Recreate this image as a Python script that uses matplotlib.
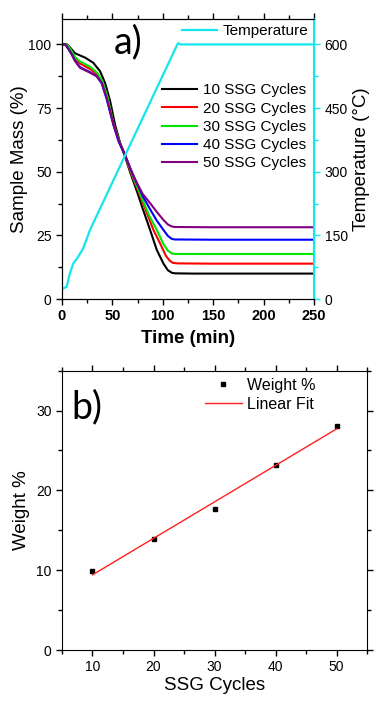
import matplotlib
matplotlib.use("Agg")
import matplotlib.pyplot as plt
import numpy as np
from matplotlib.ticker import MultipleLocator

plt.rcParams["font.family"] = ["Liberation Sans", "DejaVu Sans"]

# --- panel a: TGA curves (time in min, mass in %) ---
t_10 = [0, 5, 8, 13, 23, 31, 37.7, 42.7, 47.6, 52.6, 57.5, 62.5, 67, 71, 75, 80, 84, 87.3, 94, 100.5, 105, 109, 112, 130, 160, 200, 250]
m_10 = [100, 100, 98.8, 96.5, 94.8, 92.8, 89.5, 84.9, 78, 68.5, 61.5, 56, 50.5, 46, 41.5, 35.5, 31, 27.2, 19.3, 14, 11.3, 10.3, 10.1, 10, 10, 10, 10]

t_20 = [0, 4, 6, 9, 13, 18, 28, 35, 40, 45, 51, 57, 62.5, 70, 80, 90.6, 97.2, 103, 107, 110, 115, 150, 200, 250]
m_20 = [100, 100, 99.5, 97.5, 94.5, 92.5, 90.3, 88.2, 85.2, 79.3, 69, 61.5, 56.2, 48, 38, 27.2, 21.9, 17, 15, 14.2, 14, 13.9, 13.9, 13.9]

t_30 = [0, 4, 6, 9, 13, 18, 28, 35, 40, 45, 51, 57, 62.5, 70, 80.7, 87, 94, 100, 105, 109, 112, 150, 200, 250]
m_30 = [100, 100, 99.5, 97.8, 95, 93.3, 91.2, 88.8, 85.5, 79.5, 69, 61.6, 56.4, 48.5, 38.2, 32.3, 27.2, 22, 19, 17.9, 17.7, 17.7, 17.7, 17.7]

t_40 = [0, 3, 4.6, 9.6, 13, 17.9, 27.8, 34.4, 39.4, 44.3, 50.9, 56, 62.5, 70.7, 80, 87.3, 94, 100.5, 105, 109, 112, 150, 200, 250]
m_40 = [100, 100, 99.3, 96.2, 93.6, 91.1, 89.1, 87.5, 84.7, 78.5, 68.5, 62, 56.5, 48.5, 40.5, 35.3, 30.8, 27.2, 24.8, 23.6, 23.4, 23.3, 23.3, 23.3]

t_50 = [0, 3, 4.6, 9.6, 13, 17.9, 27.8, 34.4, 39.4, 44.3, 50.9, 56, 62.5, 68, 74, 80, 87.3, 94, 100.5, 105, 108.8, 112, 150, 200, 250]
m_50 = [100, 100, 99.3, 96, 93.4, 90.8, 88.9, 87.5, 84.9, 79, 68.8, 62.5, 56.7, 51, 45.8, 41.3, 37.7, 34.2, 31.1, 29.3, 28.5, 28.3, 28.2, 28.2, 28.2]

temp_t = [0, 1.3, 4.6, 7.9, 11.2, 16.2, 21.1, 27.8, 115, 117, 120, 250]
temp_c = [22, 25, 29, 61, 84, 100, 120, 163, 603, 600, 600, 600]

# --- panel b: residual weight vs cycles ---
cycles = [10, 20, 30, 40, 50]
weight = [9.9, 13.9, 17.7, 23.2, 28.1]

CYAN = "#14e6ee"

fig = plt.figure(figsize=(3.78, 7.02), dpi=100)

ax = fig.add_axes([0.164, 0.574, 0.667, 0.399])
series = [
    (t_10, m_10, "black", "10 SSG Cycles"),
    (t_20, m_20, "#ff0000", "20 SSG Cycles"),
    (t_30, m_30, "#00e600", "30 SSG Cycles"),
    (t_40, m_40, "#0000ff", "40 SSG Cycles"),
    (t_50, m_50, "#800080", "50 SSG Cycles"),
]
for tt, mm, col, lab in series:
    ax.plot(tt, mm, color=col, lw=1.5, label=lab)
ax.set_xlim(0, 250)
ax.set_ylim(0, 110)
ax.xaxis.set_major_locator(MultipleLocator(50))
ax.xaxis.set_minor_locator(MultipleLocator(25))
ax.yaxis.set_major_locator(MultipleLocator(25))
ax.yaxis.set_minor_locator(MultipleLocator(12.5))
ax.tick_params(which="both", direction="out", top=True, labelsize=10, width=1)
ax.tick_params(which="major", length=4)
ax.tick_params(which="minor", length=3)
ax.tick_params(axis="x", labelsize=10.5)
for lbl in ax.get_xticklabels():
    lbl.set_fontweight("bold")
ax.set_xlabel("Time (min)", fontsize=13.5, fontweight="bold", labelpad=5)
ax.set_ylabel("Sample Mass (%)", fontsize=13.5, labelpad=0)
ax.text(65.5, 101, "a)", fontsize=27, family="Lato", ha="center", va="center")
ax.legend(loc="upper left", bbox_to_anchor=(0.397, 0.77), frameon=False, fontsize=11,
          handlelength=2.3, handletextpad=0.35, labelspacing=0.28, borderpad=0, borderaxespad=0)

ax2 = ax.twinx()
ax2.plot(temp_t, temp_c, color=CYAN, lw=1.6, label="Temperature")
ax2.set_ylim(0, 660)
ax2.yaxis.set_major_locator(MultipleLocator(150))
ax2.yaxis.set_minor_locator(MultipleLocator(75))
ax2.tick_params(which="both", direction="out", colors=CYAN, labelcolor="black", labelsize=10, width=1)
ax2.tick_params(which="major", length=4)
ax2.tick_params(which="minor", length=3)
ax2.spines["right"].set_color(CYAN)
ax2.spines["right"].set_linewidth(1.5)
ax2.set_ylabel("Temperature (\u00b0C)", fontsize=13.5, labelpad=4)
ax2.legend(loc="upper left", bbox_to_anchor=(0.476, 0.982), frameon=False, fontsize=11,
           handlelength=2.3, handletextpad=0.33, borderpad=0, borderaxespad=0)

# panel b
bx = fig.add_axes([0.164, 0.074, 0.807, 0.398])
bx.plot(cycles, weight, "s", color="black", ms=3.5, label="Weight %")
slope, icpt = np.polyfit(cycles, weight, 1)
fit_x = np.array([cycles[0], cycles[-1]])
bx.plot(fit_x, slope * fit_x + icpt, color="#ff2020", lw=1, label="Linear Fit")
bx.set_xlim(5, 55)
bx.set_ylim(0, 35)
bx.xaxis.set_major_locator(MultipleLocator(10))
bx.xaxis.set_minor_locator(MultipleLocator(5))
bx.yaxis.set_major_locator(MultipleLocator(10))
bx.yaxis.set_minor_locator(MultipleLocator(5))
bx.tick_params(which="both", direction="out", top=True, right=True, labelsize=10, width=1)
bx.tick_params(which="major", length=4)
bx.tick_params(which="minor", length=3)
bx.set_xlabel("SSG Cycles", fontsize=13.5, labelpad=2)
bx.set_ylabel("Weight %", fontsize=13.5, labelpad=4)
bx.text(9.1, 30.4, "b)", fontsize=27, family="Lato", ha="center", va="center")
bx.legend(loc="upper left", bbox_to_anchor=(0.469, 0.975), frameon=False, fontsize=11.5,
          handlelength=2.3, handletextpad=0.3, labelspacing=0.25, borderpad=0, borderaxespad=0,
          numpoints=1)

fig.savefig("out.png", dpi=100)
